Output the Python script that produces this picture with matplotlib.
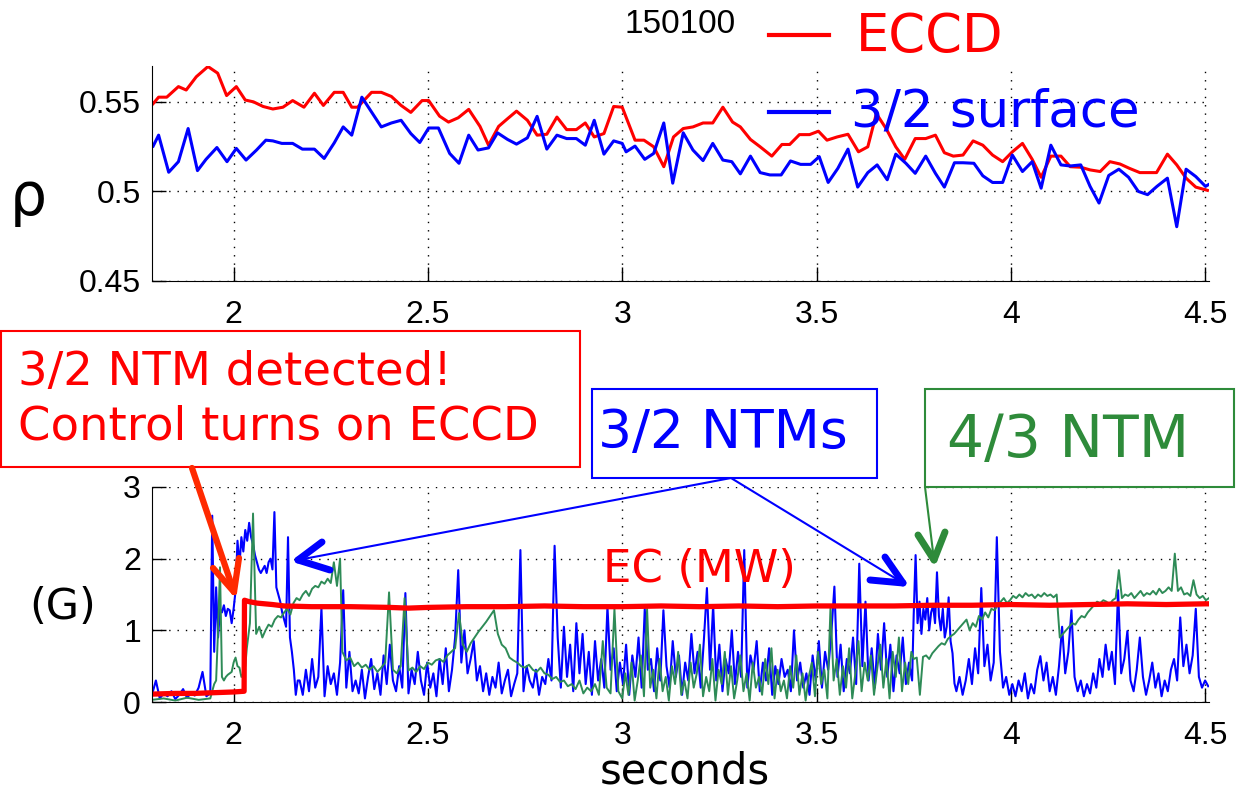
import numpy as np
import matplotlib.pyplot as plt
from matplotlib import font_manager
from matplotlib.patches import Rectangle

# ---- top panel: rho of ECCD and of the 3/2 surface ----
t_eccd = [1.793, 1.807, 1.828, 1.858, 1.878, 1.904, 1.934, 1.959, 1.982, 2.007,
          2.030, 2.051, 2.076, 2.101, 2.127, 2.152, 2.181, 2.208, 2.231, 2.259,
          2.282, 2.304, 2.319, 2.355, 2.380, 2.406, 2.431, 2.456, 2.485, 2.502,
          2.530, 2.553, 2.578, 2.605, 2.634, 2.656, 2.682, 2.705, 2.728, 2.756,
          2.781, 2.806, 2.832, 2.857, 2.882, 2.905, 2.928, 2.953, 2.978, 3.000,
          3.033, 3.056, 3.081, 3.107, 3.132, 3.157, 3.182, 3.208, 3.233, 3.259,
          3.284, 3.304, 3.330, 3.355, 3.385, 3.411, 3.431, 3.456, 3.482, 3.505,
          3.527, 3.553, 3.581, 3.608, 3.632, 3.654, 3.679, 3.704, 3.727, 3.754,
          3.781, 3.806, 3.829, 3.852, 3.877, 3.903, 3.928, 3.953, 3.979, 4.004,
          4.030, 4.055, 4.078, 4.103, 4.129, 4.153, 4.180, 4.204, 4.230, 4.255,
          4.281, 4.305, 4.332, 4.375, 4.403, 4.427, 4.451, 4.476, 4.506]
rho_eccd = [0.549, 0.5526, 0.5526, 0.5585, 0.5566, 0.564, 0.5697, 0.566, 0.5535, 0.5585,
            0.551, 0.550, 0.5474, 0.546, 0.547, 0.5507, 0.547, 0.5548, 0.548, 0.5553,
            0.5553, 0.547, 0.547, 0.5553, 0.5553, 0.553, 0.548, 0.5441, 0.5507, 0.5507,
            0.542, 0.5387, 0.5411, 0.5458, 0.5363, 0.5258, 0.5363, 0.5406, 0.5448, 0.5397,
            0.5314, 0.5319, 0.5415, 0.5345, 0.5345, 0.5382, 0.5304, 0.5323, 0.5474, 0.547,
            0.5286, 0.5286, 0.5249, 0.5138, 0.5304, 0.5351, 0.536, 0.5382, 0.5382, 0.547,
            0.5387, 0.536, 0.529, 0.5249, 0.5197, 0.5262, 0.5262, 0.5317, 0.5317, 0.5336,
            0.5286, 0.5304, 0.5319, 0.5221, 0.5249, 0.5434, 0.5351, 0.5249, 0.5179, 0.5295,
            0.5295, 0.5314, 0.5216, 0.5197, 0.5203, 0.5282, 0.5258, 0.5203, 0.5166, 0.5221,
            0.5268, 0.5179, 0.5079, 0.5197, 0.5197, 0.5138, 0.5135, 0.512, 0.5111, 0.5166,
            0.5153, 0.5129, 0.5105, 0.5105, 0.5208, 0.5148, 0.5074, 0.5024, 0.5006]

t_q32 = [1.793, 1.807, 1.833, 1.858, 1.883, 1.907, 1.929, 1.957, 1.983, 2.007,
         2.032, 2.059, 2.083, 2.101, 2.124, 2.152, 2.177, 2.208, 2.233, 2.259,
         2.282, 2.304, 2.330, 2.355, 2.380, 2.406, 2.431, 2.456, 2.479, 2.502,
         2.527, 2.556, 2.580, 2.605, 2.629, 2.656, 2.679, 2.705, 2.728, 2.756,
         2.781, 2.806, 2.832, 2.857, 2.882, 2.905, 2.928, 2.953, 2.978, 3.000,
         3.010, 3.033, 3.058, 3.081, 3.107, 3.130, 3.157, 3.182, 3.208, 3.233,
         3.259, 3.282, 3.304, 3.330, 3.355, 3.380, 3.409, 3.433, 3.459, 3.485,
         3.507, 3.530, 3.555, 3.581, 3.606, 3.632, 3.656, 3.682, 3.704, 3.730,
         3.754, 3.781, 3.806, 3.829, 3.855, 3.877, 3.905, 3.928, 3.953, 3.979,
         4.004, 4.030, 4.055, 4.078, 4.103, 4.129, 4.153, 4.180, 4.204, 4.227,
         4.252, 4.278, 4.303, 4.328, 4.352, 4.376, 4.403, 4.427, 4.451, 4.476,
         4.501, 4.508]
rho_q32 = [0.5253, 0.5314, 0.5107, 0.5166, 0.5351, 0.5116, 0.5179, 0.5245, 0.5166, 0.524,
           0.5175, 0.5231, 0.5286, 0.5282, 0.5268, 0.5268, 0.5236, 0.5236, 0.5184, 0.5271,
           0.536, 0.5314, 0.5526, 0.5443, 0.536, 0.5382, 0.5397, 0.5323, 0.5273, 0.5354,
           0.5354, 0.5212, 0.5157, 0.5314, 0.5231, 0.5243, 0.5327, 0.529, 0.5264, 0.5299,
           0.5419, 0.5236, 0.5314, 0.5295, 0.5295, 0.5258, 0.5397, 0.5208, 0.5282, 0.5268,
           0.5221, 0.5253, 0.5179, 0.5212, 0.5382, 0.5046, 0.5327, 0.5231, 0.5172, 0.5268,
           0.5175, 0.5166, 0.5098, 0.5197, 0.5105, 0.5092, 0.5092, 0.517, 0.5151, 0.5151,
           0.5194, 0.505, 0.5129, 0.5236, 0.5024, 0.5105, 0.5148, 0.5065, 0.5208, 0.5157,
           0.5101, 0.5197, 0.5101, 0.5024, 0.516, 0.516, 0.5157, 0.5087, 0.505, 0.505,
           0.5203, 0.5111, 0.5166, 0.5018, 0.5258, 0.5148, 0.5142, 0.5148, 0.5028, 0.4935,
           0.5089, 0.5124, 0.5079, 0.50, 0.4982, 0.5028, 0.5074, 0.4803, 0.5124, 0.5083,
           0.5028, 0.5037]

# ---- bottom panel: 3/2 amplitude (blue), 4/3 amplitude (green), EC power (red) ----
# each record: (start time, sample step)
n32_a = (1.79, 0.01, [0.10, 0.30, 0.05, 0.12, 0.08, 0.15, 0.04, 0.10, 0.18, 0.06,
                      0.12, 0.09, 0.20, 0.42, 0.08, 0.12])
n32_b = (1.945, 0.005, [2.60, 0.70, 1.60, 0.90, 1.30, 1.25, 1.35, 1.20, 1.30, 1.28,
                        1.10, 1.30, 1.55, 2.25, 1.90, 2.30, 2.10, 2.40, 2.25, 2.50,
                        2.30, 2.20, 2.05, 1.95, 1.85, 1.80, 1.85, 1.90, 1.80, 1.95,
                        2.00, 1.85, 2.65, 1.60, 1.50, 1.40, 1.25, 1.15, 1.05, 2.30,
                        0.90, 0.70, 0.45, 0.10, 0.30])
n32_c = (2.17, 0.008, [0.30, 0.10, 0.45, 0.15, 0.60, 0.20, 0.35, 1.31, 0.08, 0.50,
                       0.25, 0.40, 0.10, 0.55, 1.56, 0.20, 0.70, 0.15, 0.30, 0.12,
                       0.45, 0.05, 0.35, 0.60, 0.18, 0.40, 0.10, 0.65, 0.25, 0.80,
                       0.30, 0.15, 0.50, 0.20, 1.52, 0.12, 0.45, 0.25, 0.70, 0.30,
                       0.10, 0.55, 0.20, 0.40, 0.08, 0.60, 0.25, 0.75, 0.15, 0.45,
                       0.90, 1.84, 0.55, 1.00, 0.40, 0.60, 0.85, 0.30, 0.50, 0.15,
                       0.40, 0.10, 0.35, 0.20, 0.55, 0.12, 0.30, 0.45, 0.08, 0.25,
                       0.40, 2.12, 0.15, 0.50, 0.30, 0.20, 0.45, 0.10, 0.35, 0.25,
                       0.60, 0.30, 2.18])
n32_d = (2.834, 0.008, [0.90, 0.20, 1.05, 0.35, 0.80, 0.15, 1.10, 0.40, 0.95, 0.25,
                        0.70, 0.10, 0.85, 0.30, 0.60, 0.20, 1.33, 0.45, 0.75, 0.15,
                        0.55, 0.25, 0.80, 0.10, 0.65, 0.35, 0.90, 0.20, 1.30, 0.45,
                        0.60, 0.15, 0.75, 0.30, 1.28, 0.50, 0.20, 0.85, 0.35, 0.65,
                        0.10, 0.55, 0.30, 0.95, 0.40, 0.70, 0.20, 0.85, 1.59, 0.45,
                        1.35, 0.30, 0.80, 0.15, 0.60, 0.40, 1.00, 0.25, 0.70, 0.35,
                        2.12, 0.20, 0.65, 0.45, 0.85, 0.15, 0.55, 0.30, 0.75, 0.10,
                        0.50, 0.25, 0.60, 0.35, 0.45, 0.15, 1.00, 0.30, 0.55, 0.20,
                        0.40, 0.10, 0.65, 0.30, 0.85, 0.20, 0.70, 0.45, 0.95, 1.61,
                        0.35, 0.80, 0.15, 0.60, 0.40, 0.90, 0.25, 1.93, 0.50, 1.40,
                        0.30, 0.75, 0.20, 0.95, 0.45, 1.10, 0.35, 0.80, 0.15, 0.65,
                        0.40, 0.90, 0.25, 0.55, 0.30])
n32_e = (3.75, 0.005, [1.20, 2.05, 1.10, 1.40, 0.95, 1.30, 1.15, 1.45, 1.00, 1.25,
                       1.35, 1.10, 1.81, 1.20, 1.00, 1.30, 0.90, 1.05, 1.46, 0.85,
                       0.68, 0.26])
n32_f = (3.86, 0.008, [0.15, 0.35, 0.10, 0.30, 0.60, 0.25, 0.75, 0.40, 1.59, 0.50,
                       0.80, 0.30, 0.55, 2.30, 0.70, 0.20, 0.35, 0.10, 0.25, 0.08,
                       0.30, 0.15, 0.40, 0.05, 0.25, 0.12, 0.45, 0.64, 0.30, 0.55,
                       0.15, 0.35, 0.10, 0.50, 1.05, 0.40, 0.70, 1.28, 0.35, 0.15,
                       0.30, 0.08, 0.25, 0.12, 0.40, 0.20, 0.60, 0.35, 0.80, 0.45,
                       0.70, 0.25, 1.56, 0.40, 0.60, 0.99, 0.30, 0.15, 0.45, 0.90,
                       0.35, 0.10, 0.30, 0.55, 0.20, 0.40, 0.08, 0.30, 0.15, 0.45,
                       0.60, 0.30, 1.18, 0.50, 0.80, 0.40, 0.65, 1.30, 0.35, 0.20,
                       0.30, 0.22])

n43_a = (1.79, 0.03, [0.03, 0.05, 0.02, 0.06, 0.03, 0.05])
n43_b = (1.95, 0.005, [0.25, 0.30, 1.00, 1.88, 0.35, 0.30, 0.35, 0.38, 0.40, 0.42,
                       0.55, 0.62, 0.50, 0.48, 0.35, 0.40, 0.50])
n43_c = (2.034, 0.008, [0.75, 1.10, 2.63, 0.95, 1.05, 0.90, 1.00, 1.08, 1.05, 1.15,
                        1.20, 1.18, 1.25, 1.30, 1.22, 1.38, 1.45, 1.42, 1.50, 1.55,
                        1.48, 1.58, 1.62, 1.60, 1.68, 1.65, 1.72, 1.66, 1.95, 1.62,
                        2.00])
n43_d = (2.28, 0.01, [0.70, 0.58, 0.62, 0.50, 0.55, 0.48, 0.52, 0.45, 0.50, 0.42,
                      0.48, 0.55, 1.53, 0.45, 0.40, 0.50, 1.45, 0.44, 0.48, 0.42,
                      0.50, 0.46, 0.55, 0.52, 0.58, 0.60, 0.56, 0.65, 0.70, 0.75,
                      1.24, 0.80, 0.70, 0.82, 0.90, 0.98, 1.05, 1.12, 1.20, 1.28,
                      0.95, 0.80, 0.75, 0.62, 0.58, 0.55, 0.50, 0.48, 0.52, 0.45,
                      0.42, 0.48, 0.40, 0.38, 0.32, 0.35, 0.28, 0.30, 0.22, 0.25,
                      0.18, 0.30, 0.12, 0.20, 0.15, 0.25, 0.10, 0.85, 0.20, 0.12,
                      1.30, 0.15])
n43_e = (3.0, 0.008, [0.05, 0.40, 0.10, 0.55, 0.02, 0.30, 0.65, 0.08, 1.30, 0.20,
                      0.45, 0.05, 0.60, 0.15, 0.35, 0.02, 0.50, 0.25, 0.70, 0.10,
                      0.30, 0.05, 0.55, 0.20, 0.40, 0.80, 0.08, 0.35, 0.15, 0.60,
                      0.02, 0.45, 0.25, 0.70, 0.10, 0.50, 0.05, 0.30, 0.65, 0.15,
                      0.40, 0.02, 0.55, 0.20, 0.35, 0.10, 0.60, 0.25, 0.75, 0.05,
                      0.45, 0.15, 0.30, 0.05, 0.50, 0.20, 0.65, 0.10, 0.40, 0.02,
                      0.35, 0.55, 0.08, 0.70, 0.25, 0.45, 0.05, 1.32, 0.30, 0.60,
                      0.10, 0.50, 0.20, 0.75, 0.05, 0.40, 0.85, 0.15, 0.55, 0.30,
                      0.65, 0.10, 0.45, 0.80, 0.20, 0.60, 0.05, 0.70, 0.35, 0.90,
                      0.15, 0.55, 0.25, 0.70])
n43_f = (3.75, 0.008, [0.60, 0.62, 0.10, 0.63, 0.65, 0.60, 0.68,
                       0.73, 0.78, 0.82, 0.80, 0.88, 0.92, 0.95, 1.00, 1.05, 1.10, 1.15,
                       1.00, 1.10, 1.05, 1.20, 1.15, 1.25, 1.18, 1.30, 1.28, 1.35, 1.40,
                       1.45, 1.38, 1.42, 1.48, 1.45, 1.50, 1.46, 1.52, 1.48, 1.50, 1.45,
                       1.50, 1.47, 1.52, 1.48, 1.50, 1.46, 1.50,
                       0.90,
                       0.95, 1.00, 1.05, 1.10, 1.08, 1.15, 1.20, 1.18, 1.25, 1.30, 1.35,
                       1.40, 1.38, 1.42, 1.40, 1.36, 1.42, 1.45,
                       1.84,
                       1.45, 1.50, 1.48, 1.52, 1.45, 1.50, 1.55, 1.48, 1.52, 1.50, 1.55,
                       1.50, 1.58, 1.52, 1.55, 1.60, 1.55,
                       2.07,
                       1.55, 1.60, 1.50, 1.52, 1.48, 1.70, 1.50, 1.45, 1.48, 1.42, 1.45])

t_ec = [1.79, 1.85, 1.90, 1.95, 2.00, 2.027, 2.028, 2.04, 2.06, 2.08, 2.10, 2.13,
        2.20, 2.30, 2.40, 2.45, 2.50, 2.60, 2.70, 2.80, 2.90, 3.00, 3.10, 3.20,
        3.30, 3.40, 3.50, 3.60, 3.70, 3.80, 3.90, 4.00, 4.10, 4.20, 4.30, 4.40,
        4.50, 4.51]
ec_mw = [0.11, 0.12, 0.12, 0.13, 0.14, 0.15, 1.42, 1.40, 1.38, 1.37, 1.36, 1.34,
         1.33, 1.33, 1.32, 1.31, 1.32, 1.33, 1.33, 1.34, 1.33, 1.33, 1.34, 1.33,
         1.34, 1.33, 1.34, 1.34, 1.34, 1.35, 1.35, 1.36, 1.35, 1.36, 1.37, 1.36,
         1.37, 1.37]


def trace(*segs):
    ts, vs = [], []
    for t0, dt, vals in segs:
        ts.append(t0 + dt * np.arange(len(vals)))
        vs.append(np.asarray(vals))
    return np.concatenate(ts), np.concatenate(vs)


def pick_font(names):
    for n in names:
        try:
            font_manager.findfont(n, fallback_to_default=False)
            return n
        except ValueError:
            pass
    return 'DejaVu Sans'


narrow = pick_font(['Liberation Sans Narrow', 'Liberation Sans'])


def style_axes(ax):
    for s in ['top', 'right']:
        ax.spines[s].set_visible(False)
    ax.grid(True, color='black', linestyle=(0, (1, 5)), linewidth=1.0)
    ax.tick_params(direction='in', length=10, width=1, labelsize=23, pad=8)
    ax.tick_params(axis='x', pad=14)
    ax.set_xlim(1.79, 4.51)
    ax.set_xticks([2, 2.5, 3, 3.5, 4, 4.5])
    ax.set_xticklabels(['2', '2.5', '3', '3.5', '4', '4.5'])
    for lab in ax.get_xticklabels() + ax.get_yticklabels():
        lab.set_family(narrow)


W, H = 1241, 797
fig = plt.figure(figsize=(W / 100, H / 100), dpi=100)

ax1 = fig.add_axes([152 / W, 1 - 281 / H, (1209 - 152) / W, (281 - 66) / H])
ax1.plot(t_eccd, rho_eccd, color='#ff0000', lw=2.2)
ax1.plot(t_q32, rho_q32, color='#0000ff', lw=2.2)
ax1.set_ylim(0.45, 0.57)
ax1.set_yticks([0.45, 0.5, 0.55])
ax1.set_yticklabels(['0.45', '0.5', '0.55'])
style_axes(ax1)

ax2 = fig.add_axes([152 / W, 1 - 702 / H, (1209 - 152) / W, (702 - 487) / H])
tb, vb = trace(n32_a, n32_b, n32_c, n32_d, n32_e, n32_f)
tg, vg = trace(n43_a, n43_b, n43_c, n43_d, n43_e, n43_f)
ax2.plot(tb, vb, color='#0000ff', lw=1.5)
ax2.plot(tg, vg, color='#2e8b57', lw=1.4)
ax2.plot(t_ec, ec_mw, color='#ff0000', lw=3.8)
ax2.set_ylim(0, 3)
ax2.set_yticks([0, 1, 2, 3])
ax2.set_yticklabels(['0', '1', '2', '3'])
style_axes(ax2)

# overlay in pixel coordinates for labels, boxes and arrows
ov = fig.add_axes([0, 0, 1, 1], zorder=10)
ov.set_xlim(0, W)
ov.set_ylim(H, 0)
ov.axis('off')
ov.patch.set_alpha(0)

gothic = 'DejaVu Sans'
red, blue, green = '#ff0000', '#0000ff', '#2e8b3a'

ov.text(680, 24, '150100', fontsize=24, family=narrow, ha='center', va='center')
ov.plot([769, 829], [35, 35], color=red, lw=3)
ov.text(856, 37, 'ECCD', color=red, fontsize=38, family=gothic, ha='left', va='center')
ov.plot([769, 829], [112, 112], color=blue, lw=3)
ov.text(851, 112, '3/2 surface', color=blue, fontsize=37, family=gothic, ha='left', va='center')

ov.text(28, 198, 'ρ', fontsize=42, family=gothic, ha='center', va='center')
ov.text(63, 607, '(G)', fontsize=31, family=gothic, ha='center', va='center')
ov.text(685, 772, 'seconds', fontsize=30, family=gothic, ha='center', va='center')
ov.text(603, 570, 'EC (MW)', color=red, fontsize=32.5, family=gothic, ha='left', va='center')

# boxes
ov.add_patch(Rectangle((1, 331), 579, 136, facecolor='white', edgecolor=red, lw=1.5))
ov.text(18, 372, '3/2 NTM detected!', color=red, fontsize=33.5, family=gothic, ha='left', va='center')
ov.text(18, 427, 'Control turns on ECCD', color=red, fontsize=33.5, family=gothic, ha='left', va='center')

ov.add_patch(Rectangle((592, 389), 285, 89, facecolor='white', edgecolor=blue, lw=1.5))
ov.text(598, 433, '3/2 NTMs', color=blue, fontsize=38.5, family=gothic, ha='left', va='center')

ov.add_patch(Rectangle((925, 389), 309, 98, facecolor='white', edgecolor=green, lw=1.5))
ov.text(947, 440, '4/3 NTM', color=green, fontsize=42, family=gothic, ha='left', va='center')


def arrow(x0, y0, x1, y1, arms, color, lw, head_lw):
    ov.plot([x0, x1], [y0, y1], color=color, lw=lw, solid_capstyle='round')
    for xa, ya in arms:
        ov.plot([xa, x1], [ya, y1], color=color, lw=head_lw, solid_capstyle='round')


arrow(192, 468, 234, 592, [(213, 568), (239, 558)], '#ff2a00', 4.5, 4.5)
arrow(731, 478, 298, 560, [(322, 542), (330, 570)], blue, 1.5, 5)
arrow(731, 478, 903, 583, [(885, 557), (870, 580)], blue, 1.5, 5)
arrow(925, 487, 934, 560, [(918, 535), (945, 532)], green, 1.5, 5)

fig.savefig('out.png', dpi=100)
